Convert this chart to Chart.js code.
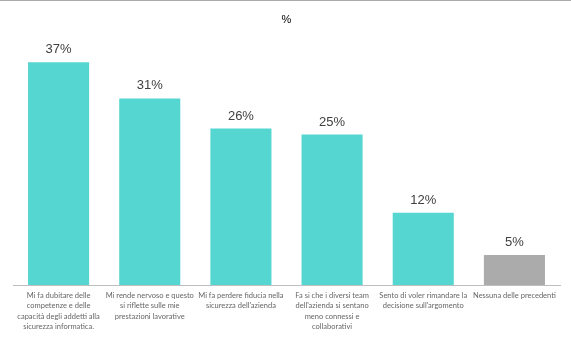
<!DOCTYPE html>
<html>
<head>
<meta charset="utf-8">
<script src="https://cdn.jsdelivr.net/npm/chart.js@4/dist/chart.umd.min.js"></script>
<style>
  html, body { margin: 0; padding: 0; background: #fff; }
  #wrap { width: 571px; height: 337px; position: relative; box-sizing: border-box; border-top: 1px solid #a9a9a9; }
  canvas { display: block; }
</style>
</head>
<body>
<div id="wrap"><canvas id="c" width="571" height="336"></canvas></div>
<script>
const categories = [
  ["Mi fa dubitare delle", "competenze e delle", "capacità degli addetti alla", "sicurezza informatica."],
  ["Mi rende nervoso e questo", "si riflette sulle mie", "prestazioni lavorative"],
  ["Mi fa perdere fiducia nella", "sicurezza dell'azienda"],
  ["Fa si che i diversi team", "dell'azienda si sentano", "meno connessi e", "collaborativi"],
  ["Sento di voler rimandare la", "decisione sull'argomento"],
  ["Nessuna delle precedenti"]
];
const values = [37, 31, 26, 25, 12, 5];
const barColors = ["#56D6D1", "#56D6D1", "#56D6D1", "#56D6D1", "#56D6D1", "#ABABAB"];
const titleText = "%";

const valueLabels = {
  id: 'valueLabels',
  afterDatasetsDraw(chart) {
    const ctx = chart.ctx;
    const meta = chart.getDatasetMeta(0);
    ctx.save();
    ctx.font = '13px "Liberation Sans", Arial, sans-serif';
    ctx.fillStyle = '#404040';
    ctx.textAlign = 'center';
    ctx.textBaseline = 'bottom';
    meta.data.forEach((bar, i) => {
      ctx.fillText(values[i] + '%', bar.x, bar.y - 6);
    });
    ctx.restore();
  }
};

new Chart(document.getElementById('c'), {
  type: 'bar',
  data: {
    labels: categories,
    datasets: [{
      data: values,
      backgroundColor: barColors,
      borderWidth: 0,
      barPercentage: 0.67,
      categoryPercentage: 1.0
    }]
  },
  options: {
    responsive: false,
    animation: false,
    layout: { padding: { left: 13, right: 11, top: 0, bottom: 0 } },
    plugins: {
      legend: { display: false },
      tooltip: { enabled: false },
      title: {
        display: true,
        text: titleText,
        color: '#000',
        font: { size: 11, family: '"Liberation Sans", Arial, sans-serif', weight: 'normal' },
        padding: { top: 12, bottom: 18 }
      }
    },
    scales: {
      x: {
        grid: { display: false, drawTicks: false },
        border: { display: true, color: '#BFBFBF', width: 1 },
        ticks: {
          autoSkip: false,
          maxRotation: 0,
          minRotation: 0,
          padding: 5,
          color: '#666666',
          font: { size: 7.5, family: 'Lato, sans-serif', lineHeight: 1.4 }
        }
      },
      y: {
        display: false,
        min: 0,
        max: 40
      }
    }
  },
  plugins: [valueLabels]
});
</script>
</body>
</html>
